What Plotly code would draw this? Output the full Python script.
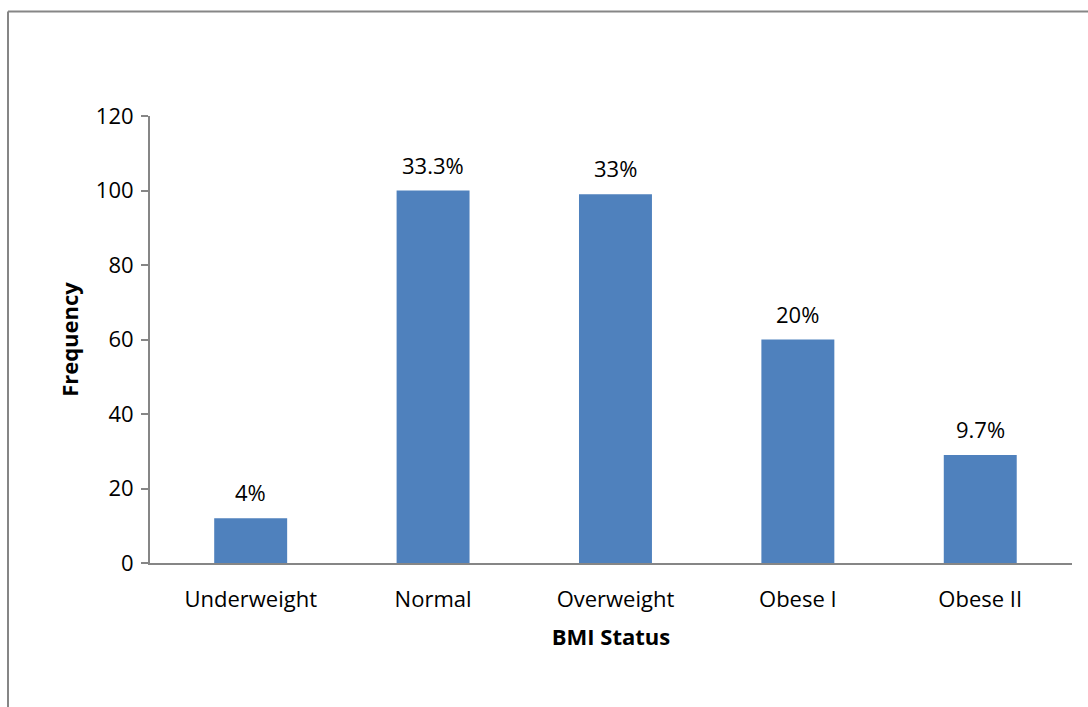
import plotly.graph_objects as go

categories = ["Underweight", "Normal", "Overweight", "Obese I", "Obese II"]
frequency = [12, 100, 99, 60, 29]
pct_labels = ["4%", "33.3%", "33%", "20%", "9.7%"]
y_ticks = [0, 20, 40, 60, 80, 100, 120]

BAR = "#4F81BD"
AXIS = "#868686"
FONT = "Open Sans, Calibri, Arial, sans-serif"
FS = 22

fig = go.Figure()
fig.add_trace(go.Bar(
    x=categories, y=frequency, width=0.4,
    marker=dict(color=BAR, line=dict(width=0)),
    hoverinfo="x+y",
))

for c, v, t in zip(categories, frequency, pct_labels):
    fig.add_annotation(x=c, y=v, text=t, showarrow=False, yanchor="bottom",
                       yshift=9, font=dict(family=FONT, size=FS, color="#000"))

L, R, T, B = 150, 1072, 116, 563
W, H = R - L, B - T
def px_x(p): return (p - L) / W
def px_y(p): return (B - p) / H

# outer chart frame (top and left edges visible)
fig.add_shape(type="line", xref="paper", yref="paper",
              x0=px_x(8), x1=px_x(1090), y0=px_y(11.5), y1=px_y(11.5),
              line=dict(color=AXIS, width=2))
fig.add_shape(type="line", xref="paper", yref="paper",
              x0=px_x(8), x1=px_x(8), y0=px_y(11.5), y1=px_y(710),
              line=dict(color=AXIS, width=2))

fig.update_layout(
    width=1088, height=707,
    margin=dict(l=L, r=1088 - R, t=T, b=707 - B, pad=0),
    paper_bgcolor="white", plot_bgcolor="white",
    showlegend=False,
    font=dict(family=FONT, size=FS, color="#000"),
    bargap=0.6,
)
fig.update_xaxes(
    type="category", range=[-0.552, 4.503],
    showline=True, linecolor=AXIS, linewidth=2,
    ticks="", showgrid=False, zeroline=False,
    ticklabelstandoff=16,
    tickfont=dict(family=FONT, size=FS, color="#000"),
    title=dict(text="<b>BMI Status</b>", standoff=17,
               font=dict(family=FONT, size=FS, color="#000")),
)
fig.update_yaxes(
    range=[0, 120], tickvals=y_ticks,
    showline=True, linecolor=AXIS, linewidth=2,
    ticks="outside", ticklen=7, tickwidth=2, tickcolor=AXIS,
    showgrid=False, zeroline=False,
    ticklabelstandoff=3,
    tickfont=dict(family=FONT, size=FS, color="#000"),
    title=dict(text="<b>Frequency</b>", standoff=11,
               font=dict(family=FONT, size=FS, color="#000")),
)

fig.write_html("out.html")
